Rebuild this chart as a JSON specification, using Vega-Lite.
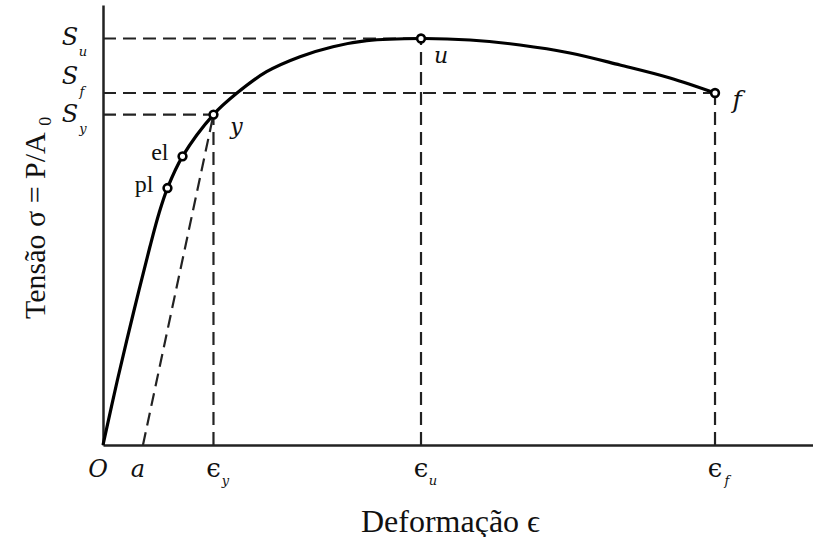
{
  "$schema": "https://vega.github.io/schema/vega-lite/v6.json",
  "width": 710,
  "height": 440,
  "autosize": {"type": "none"},
  "padding": {"left": 103, "top": 5, "right": 0, "bottom": 92},
  "background": "white",
  "config": {
    "view": {"stroke": null},
    "font": "Liberation Serif",
    "text": {"font": "Liberation Serif", "color": "#111", "baseline": "middle", "align": "center"}
  },
  "datasets": {
    "curve": [
      {"strain": 0, "stress": 0},
      {"strain": 2.03, "stress": 14.77},
      {"strain": 4.28, "stress": 30.0},
      {"strain": 6.6, "stress": 45.0},
      {"strain": 7.9, "stress": 52.73},
      {"strain": 9.08, "stress": 58.4},
      {"strain": 11.2, "stress": 65.6},
      {"strain": 15.56, "stress": 75.1},
      {"strain": 18.83, "stress": 79.93},
      {"strain": 23.04, "stress": 84.84},
      {"strain": 27.75, "stress": 88.25},
      {"strain": 32.39, "stress": 90.52},
      {"strain": 37.14, "stress": 91.89},
      {"strain": 44.79, "stress": 92.39},
      {"strain": 51.69, "stress": 92.05},
      {"strain": 58.73, "stress": 90.91},
      {"strain": 65.77, "stress": 89.09},
      {"strain": 72.82, "stress": 86.36},
      {"strain": 79.86, "stress": 83.41},
      {"strain": 86.2, "stress": 80.0}
    ],
    "guides": [
      {"strain": 0, "stress": 92.39, "strain2": 44.79, "stress2": 92.39},
      {"strain": 0, "stress": 80.0, "strain2": 86.2, "stress2": 80.0},
      {"strain": 0, "stress": 75.1, "strain2": 15.56, "stress2": 75.1},
      {"strain": 15.56, "stress": 0, "strain2": 15.56, "stress2": 75.1},
      {"strain": 44.79, "stress": 0, "strain2": 44.79, "stress2": 92.39},
      {"strain": 86.2, "stress": 0, "strain2": 86.2, "stress2": 80.0},
      {"strain": 5.63, "stress": 0, "strain2": 15.56, "stress2": 75.1}
    ],
    "points": [
      {"name": "pl", "strain": 9.08, "stress": 58.4},
      {"name": "el", "strain": 11.2, "stress": 65.6},
      {"name": "y", "strain": 15.56, "stress": 75.1},
      {"name": "u", "strain": 44.79, "stress": 92.39},
      {"name": "f", "strain": 86.2, "stress": 80.0}
    ],
    "xticks": [
      {"main": "O", "sub": "", "kind": "letter", "strain": 0, "stress": 0},
      {"main": "a", "sub": "", "kind": "letter", "strain": 5.63, "stress": 0},
      {"main": "ϵ", "sub": "y", "kind": "eps", "strain": 15.56, "stress": 0},
      {"main": "ϵ", "sub": "u", "kind": "eps", "strain": 44.79, "stress": 0},
      {"main": "ϵ", "sub": "f", "kind": "eps", "strain": 86.2, "stress": 0}
    ],
    "yticks": [
      {"main": "S", "sub": "u", "strain": 0, "stress": 92.39},
      {"main": "S", "sub": "f", "strain": 0, "stress": 80.0},
      {"main": "S", "sub": "y", "strain": 0, "stress": 75.1}
    ]
  },
  "encoding": {
    "x": {
      "field": "strain",
      "type": "quantitative",
      "scale": {"domain": [0, 100], "nice": false, "zero": true},
      "axis": {
        "domain": true, "domainColor": "#222", "domainWidth": 2.5,
        "ticks": false, "labels": false, "grid": false,
        "title": "Deformação ϵ",
        "titleFont": "Liberation Serif", "titleFontSize": 32, "titleFontWeight": "normal",
        "titleColor": "#111", "titlePadding": 61, "titleX": 347, "titleAlign": "center"
      }
    },
    "y": {
      "field": "stress",
      "type": "quantitative",
      "scale": {"domain": [0, 100], "nice": false, "zero": true},
      "axis": {
        "domain": true, "domainColor": "#222", "domainWidth": 2.5,
        "ticks": false, "labels": false, "grid": false,
        "title": "Tensão σ = P/A ₀",
        "titleFont": "Liberation Serif", "titleFontSize": 30, "titleFontWeight": "normal",
        "titleColor": "#111", "titleX": -68, "titleY": 212, "titleAngle": -90,
        "titleAlign": "center", "titleBaseline": "middle"
      }
    }
  },
  "layer": [
    {
      "data": {"name": "guides"},
      "mark": {"type": "rule", "color": "#222", "strokeWidth": 2.2, "strokeDash": [13, 7]},
      "encoding": {"x2": {"field": "strain2"}, "y2": {"field": "stress2"}}
    },
    {
      "data": {"name": "curve"},
      "mark": {"type": "line", "color": "#000", "strokeWidth": 3.2, "interpolate": "catmull-rom"},
      "encoding": {}
    },
    {
      "data": {"name": "points"},
      "mark": {"type": "point", "shape": "circle", "size": 60, "filled": false, "fill": "white", "fillOpacity": 1, "stroke": "#000", "strokeWidth": 2.6, "opacity": 1},
      "encoding": {}
    },
    {
      "data": {"name": "points"},
      "transform": [{"filter": "datum.name === 'u'"}],
      "mark": {"type": "text", "font": "DejaVu Serif", "fontStyle": "italic", "fontSize": 22, "dx": 20, "dy": 18},
      "encoding": {"text": {"field": "name"}}
    },
    {
      "data": {"name": "points"},
      "transform": [{"filter": "datum.name === 'f'"}],
      "mark": {"type": "text", "font": "DejaVu Serif", "fontStyle": "italic", "fontSize": 25, "dx": 22, "dy": 7},
      "encoding": {"text": {"field": "name"}}
    },
    {
      "data": {"name": "points"},
      "transform": [{"filter": "datum.name === 'y'"}],
      "mark": {"type": "text", "font": "DejaVu Serif", "fontStyle": "italic", "fontSize": 22, "dx": 23, "dy": 12},
      "encoding": {"text": {"field": "name"}}
    },
    {
      "data": {"name": "points"},
      "transform": [{"filter": "datum.name === 'el' || datum.name === 'pl'"}],
      "mark": {"type": "text", "font": "Liberation Serif", "fontSize": 24, "align": "right", "dx": -14, "dy": -3},
      "encoding": {"text": {"field": "name"}}
    },
    {
      "data": {"name": "xticks"},
      "transform": [{"filter": "datum.kind === 'letter'"}],
      "mark": {"type": "text", "font": "DejaVu Serif", "fontStyle": "italic", "fontSize": 24, "dx": -5, "dy": 25},
      "encoding": {"text": {"field": "main"}}
    },
    {
      "data": {"name": "xticks"},
      "transform": [{"filter": "datum.kind === 'eps'"}],
      "mark": {"type": "text", "font": "DejaVu Serif", "fontSize": 26, "dx": 0, "dy": 24},
      "encoding": {"text": {"field": "main"}}
    },
    {
      "data": {"name": "xticks"},
      "transform": [{"filter": "datum.kind === 'eps'"}],
      "mark": {"type": "text", "font": "DejaVu Serif", "fontStyle": "italic", "fontSize": 13, "dx": 12, "dy": 36},
      "encoding": {"text": {"field": "sub"}}
    },
    {
      "data": {"name": "yticks"},
      "transform": [{"filter": "datum.sub !== 'f'"}],
      "mark": {"type": "text", "font": "DejaVu Serif", "fontStyle": "italic", "fontSize": 24, "dx": -33, "dy": 0},
      "encoding": {"text": {"field": "main"}}
    },
    {
      "data": {"name": "yticks"},
      "transform": [{"filter": "datum.sub !== 'f'"}],
      "mark": {"type": "text", "font": "DejaVu Serif", "fontStyle": "italic", "fontSize": 13, "dx": -20, "dy": 14},
      "encoding": {"text": {"field": "sub"}}
    },
    {
      "data": {"name": "yticks"},
      "transform": [{"filter": "datum.sub === 'f'"}],
      "mark": {"type": "text", "font": "DejaVu Serif", "fontStyle": "italic", "fontSize": 24, "dx": -33, "dy": -16},
      "encoding": {"text": {"field": "main"}}
    },
    {
      "data": {"name": "yticks"},
      "transform": [{"filter": "datum.sub === 'f'"}],
      "mark": {"type": "text", "font": "DejaVu Serif", "fontStyle": "italic", "fontSize": 13, "dx": -21, "dy": -1},
      "encoding": {"text": {"field": "sub"}}
    }
  ]
}
